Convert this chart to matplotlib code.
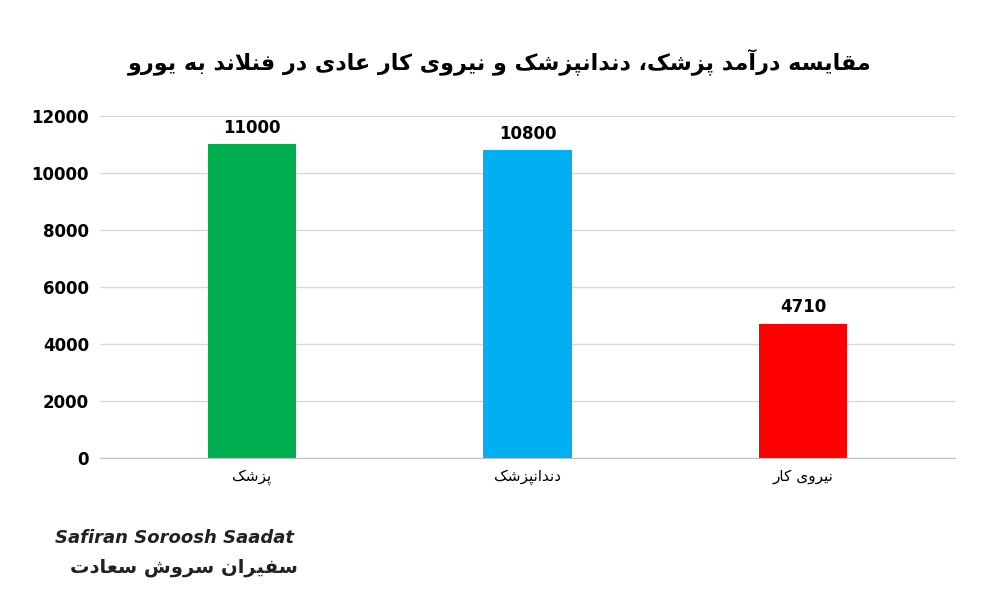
import matplotlib
matplotlib.use("Agg")
import matplotlib.pyplot as plt

categories = ["پزشک", "دندانپزشک", "نیروی کار"]
values = [11000, 10800, 4710]
colors = ["#00b050", "#00b0f0", "#ff0000"]
title = "مقایسه درآمد پزشک، دندانپزشک و نیروی کار عادی در فنلاند به یورو"
yticks = [0, 2000, 4000, 6000, 8000, 10000, 12000]

FORMS = {
 'ا': (0xFE8D, 0xFE8E, None, None), 'آ': (0xFE81, 0xFE82, None, None),
 'ب': (0xFE8F, 0xFE90, 0xFE91, 0xFE92), 'پ': (0xFB56, 0xFB57, 0xFB58, 0xFB59),
 'ت': (0xFE95, 0xFE96, 0xFE97, 0xFE98), 'د': (0xFEA9, 0xFEAA, None, None),
 'ر': (0xFEAD, 0xFEAE, None, None), 'ز': (0xFEAF, 0xFEB0, None, None),
 'س': (0xFEB1, 0xFEB2, 0xFEB3, 0xFEB4), 'ش': (0xFEB5, 0xFEB6, 0xFEB7, 0xFEB8),
 'ع': (0xFEC9, 0xFECA, 0xFECB, 0xFECC), 'ف': (0xFED1, 0xFED2, 0xFED3, 0xFED4),
 'ق': (0xFED5, 0xFED6, 0xFED7, 0xFED8), 'ک': (0xFB8E, 0xFB8F, 0xFB90, 0xFB91),
 'ل': (0xFEDD, 0xFEDE, 0xFEDF, 0xFEE0), 'م': (0xFEE1, 0xFEE2, 0xFEE3, 0xFEE4),
 'ن': (0xFEE5, 0xFEE6, 0xFEE7, 0xFEE8), 'ه': (0xFEE9, 0xFEEA, 0xFEEB, 0xFEEC),
 'و': (0xFEED, 0xFEEE, None, None), 'ی': (0xFBFC, 0xFBFD, 0xFBFE, 0xFBFF),
}

def shape(s):
    out = []
    i = 0
    while i < len(s):
        c = s[i]
        prev = s[i-1] if i > 0 else ''
        jp = prev in FORMS and FORMS[prev][2] is not None
        if c == 'ل' and i + 1 < len(s) and s[i+1] == 'ا':
            out.append(chr(0xFEFC if jp else 0xFEFB)); i += 2; continue
        if c not in FORMS:
            out.append(c); i += 1; continue
        nxt = s[i+1] if i + 1 < len(s) else ''
        jn = nxt in FORMS and FORMS[c][2] is not None
        iso, fin, ini, med = FORMS[c]
        if jp and jn: code = med
        elif jp: code = fin
        elif jn: code = ini
        else: code = iso
        out.append(chr(code)); i += 1
    return ''.join(out)[::-1]

plt.rcParams['font.family'] = ['DejaVu Sans']
fig = plt.figure(figsize=(10, 6), dpi=100)
ax = fig.add_axes([0.1, 0.237, 0.855, 0.57])
x = range(len(categories))
bars = ax.bar(x, values, width=0.32, color=colors)
for b, v in zip(bars, values):
    ax.text(b.get_x() + b.get_width()/2, v + 250, str(v), ha='center', va='bottom',
            fontsize=12, fontweight='bold')
ax.set_ylim(0, 12000)
ax.set_xlim(-0.55, 2.55)
ax.set_yticks(yticks)
ax.set_yticklabels([str(t) for t in yticks], fontsize=12, fontweight='bold')
ax.set_xticks(list(x))
ax.set_xticklabels([shape(c) for c in categories], fontsize=11)
ax.grid(axis='y', color='#d9d9d9', linewidth=1)
ax.set_axisbelow(True)
for s in ['top', 'right', 'left']:
    ax.spines[s].set_visible(False)
ax.spines['bottom'].set_color('#bfbfbf')
ax.tick_params(length=0, pad=8)
fig.text(0.5, 0.885, shape(title), ha='center', fontsize=16, fontweight='bold')
fig.text(0.055, 0.095, "Safiran Soroosh Saadat", fontsize=13, fontweight='bold',
         style='italic', color='#222222')
fig.text(0.07, 0.045, shape("سفیران سروش سعادت"), fontsize=14, fontweight='bold', color='#222222')
fig.savefig("out.png")
